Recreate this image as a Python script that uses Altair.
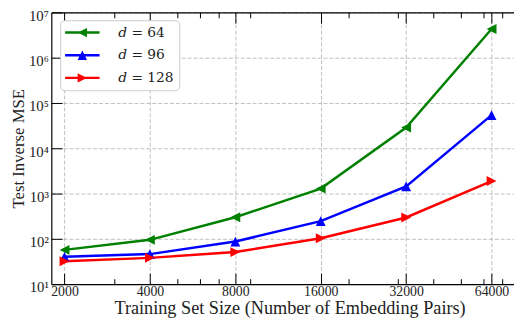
import altair as alt
import pandas as pd

# ---- data ----
sizes = [2000, 4000, 8000, 16000, 32000, 64000]
series_names = ["𝑑 = 64", "𝑑 = 96", "𝑑 = 128"]
mse_d64 = [57, 95, 300, 1285, 28600, 4.3e6]
mse_d96 = [40, 46, 87, 246, 1440, 54000]
mse_d128 = [32, 38, 51, 103, 296, 1890]
colors = ["#008000", "#0000ff", "#ff0000"]

x_major = sizes
x_minor = [3000, 5000, 6000, 7000, 9000, 20000, 30000, 40000, 50000, 60000, 70000]
y_major = [10, 100, 1e3, 1e4, 1e5, 1e6, 1e7]

# marker shapes (matplotlib-like triangles)
marker_paths = [
    "M-1,0L1,-1L1,1Z",      # left
    "M0,-1L1,1L-1,1Z",      # up
    "M1,0L-1,1L-1,-1Z",     # right
]
_bar = "M-2.333,-0.167L2.333,-0.167L2.333,0.167L-2.333,0.167Z"
legend_paths = [
    _bar + "M-0.633,0L0.633,-0.633L0.633,0.633Z",
    _bar + "M0,-0.633L0.633,0.633L-0.633,0.633Z",
    _bar + "M0.633,0L-0.633,0.633L-0.633,-0.633Z",
]

rows = []
for name, vals in zip(series_names, [mse_d64, mse_d96, mse_d128]):
    for s, v in zip(sizes, vals):
        rows.append({"size": s, "mse": v, "series": name})
df = pd.DataFrame(rows)

FONT = "Liberation Serif"
LFONT = "DejaVu Serif"
TXT = "#222222"

xscale = alt.Scale(type="log", domain=[1797, 76790], nice=False)
yscale = alt.Scale(type="log", domain=[10, 1e7], nice=False)
cscale = alt.Scale(domain=series_names, range=colors)

def tick_axis(orient, values, size, offset):
    return alt.Axis(orient=orient, values=values, labels=False, domain=False, grid=False,
                    ticks=True, tickSize=size, offset=offset, tickColor="black",
                    tickWidth=1, title=None)

base = alt.Chart(df)

# A: lines + main labelled axes with grid
lines = base.mark_line(strokeWidth=2.5).encode(
    x=alt.X("size:Q", scale=xscale,
            axis=alt.Axis(orient="bottom", values=x_major, format="d", grid=True, ticks=False,
                          domain=True, domainColor="black", domainWidth=1.2,
                          labelFont=FONT, labelFontSize=14, labelColor=TXT, labelPadding=1,
                          labelFlush=False,
                          title="Training Set Size (Number of Embedding Pairs)",
                          titleFont=FONT, titleFontSize=18.5, titleFontWeight="normal",
                          titleColor=TXT, titleX=242, titleY=30, titleBaseline="alphabetic",
                          titleAlign="center")),
    y=alt.Y("mse:Q", scale=yscale,
            axis=alt.Axis(orient="left", values=y_major, grid=True, ticks=False,
                          domain=True, domainColor="black", domainWidth=1.2,
                          labelExpr="'10' + ['⁰','¹','²','³','⁴','⁵','⁶','⁷'][round(log(datum.value)/LN10)]",
                          labelFont=FONT, labelFontSize=15, labelColor=TXT, labelPadding=3,
                          labelFlush=False, labelOffset=3, labelBaseline="middle",
                          title="Test Inverse MSE", titleFont=FONT, titleFontSize=17,
                          titleFontWeight="normal", titleColor=TXT, titleX=-33, titleY=138,
                          titleAngle=270, titleBaseline="middle", titleAlign="center")),
    color=alt.Color("series:N", scale=cscale, legend=None),
    detail="series:N",
)

# B: markers + inward major ticks bottom/left
points = base.mark_point(filled=True, size=100, opacity=1).encode(
    x=alt.X("size:Q", scale=xscale, axis=tick_axis("bottom", x_major, 11, -11)),
    y=alt.Y("mse:Q", scale=yscale, axis=tick_axis("left", y_major, 11, -11)),
    color=alt.Color("series:N", scale=cscale, legend=None),
    shape=alt.Shape("series:N", scale=alt.Scale(domain=series_names, range=marker_paths), legend=None),
)

legend_def = alt.Legend(title=None, orient="none", legendX=9, legendY=8,
                        labelFont=LFONT, labelFontSize=14, labelColor=TXT)

# C: legend layer + inward top major ticks
legend_layer = base.mark_point(filled=True, size=0).encode(
    x=alt.X("size:Q", scale=xscale, axis=tick_axis("top", x_major, 11, -11)),
    y=alt.Y("mse:Q", scale=yscale, axis=None),
    color=alt.Color("series:N", scale=cscale, legend=legend_def),
    shape=alt.Shape("series:N", scale=alt.Scale(domain=series_names, range=legend_paths),
                    legend=legend_def),
)

# D/E: inward minor ticks bottom/top
minor_bottom = base.mark_point(size=0, opacity=0).encode(
    x=alt.X("size:Q", scale=xscale, axis=tick_axis("bottom", x_minor, 5.5, -5.5)),
    y=alt.Y("mse:Q", scale=yscale, axis=None),
)
minor_top = base.mark_point(size=0, opacity=0).encode(
    x=alt.X("size:Q", scale=xscale, axis=tick_axis("top", x_minor, 5.5, -5.5)),
    y=alt.Y("mse:Q", scale=yscale, axis=None),
)
# F: top spine
top_spine = base.mark_point(size=0, opacity=0).encode(
    x=alt.X("size:Q", scale=xscale,
            axis=alt.Axis(orient="top", labels=False, ticks=False, grid=False, domain=True,
                          domainColor="black", domainWidth=1.2, title=None)),
    y=alt.Y("mse:Q", scale=yscale, axis=None),
)

chart = alt.layer(lines, points, legend_layer, minor_bottom, minor_top, top_spine).resolve_axis(
    x="independent", y="independent"
).resolve_scale(
    color="independent", shape="independent"
).properties(
    width=470, height=276,
    autosize=alt.AutoSizeParams(type="none"),
    padding={"left": 44, "top": 2, "right": 0, "bottom": 36},
).configure_view(
    stroke=None
).configure_axis(
    gridColor="#b0b0b0", gridDash=[4, 2], gridWidth=0.8
).configure_legend(
    fillColor="white", strokeColor="#cccccc", cornerRadius=4, padding=5,
    symbolSize=225, symbolOffset=10, labelOffset=29, symbolStrokeWidth=0,
    labelFont=LFONT, labelFontSize=14, labelColor=TXT, rowPadding=8,
    symbolOpacity=1,
)

chart.save("out.html", embed_options={"renderer": "svg", "actions": False})
